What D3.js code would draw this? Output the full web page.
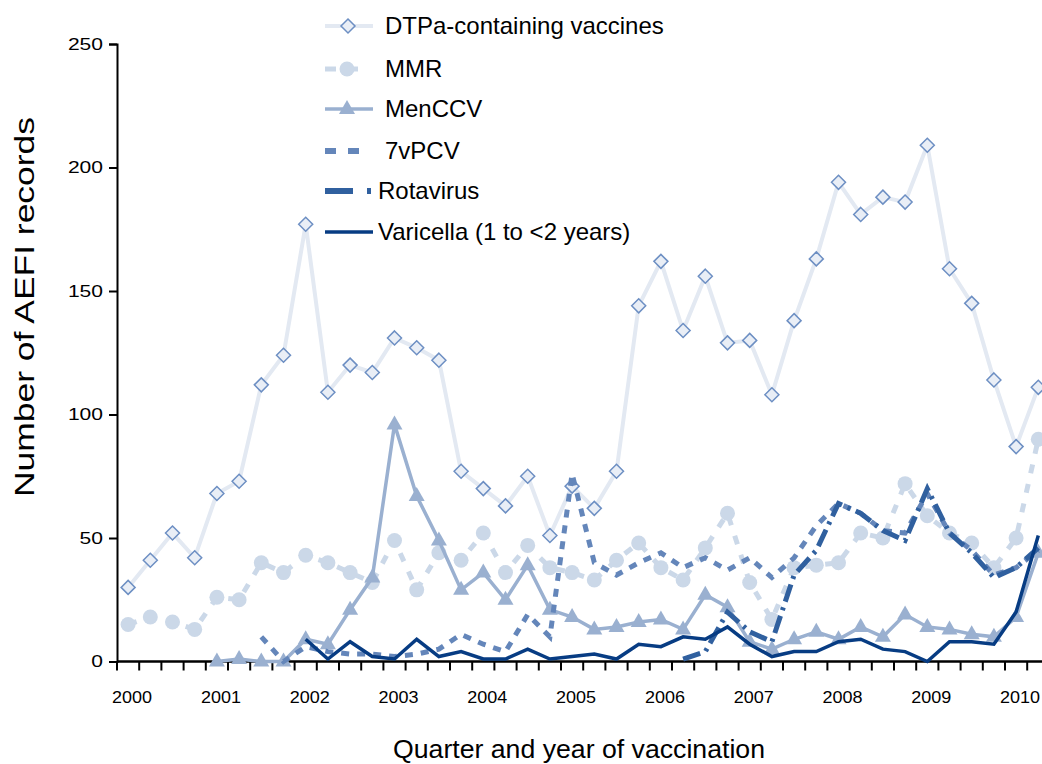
<!DOCTYPE html>
<html><head><meta charset="utf-8">
<script src="https://cdn.jsdelivr.net/npm/d3@7"></script>
<style>
html,body{margin:0;padding:0;background:#fff;}
svg{display:block;font-family:Arial,"Liberation Sans",sans-serif;}
</style></head>
<body>
<svg id="chart" width="1042" height="764"></svg>
<script>
const years = ["2000","2001","2002","2003","2004","2005","2006","2007","2008","2009","2010"];
const quarterNames = ["Q1","Q2","Q3","Q4"];
const quarters = [];
years.forEach(y => quarterNames.forEach(q => quarters.push(y + " " + q)));
quarters.length = 42; // 2000 Q1 .. 2010 Q2

const dtpa = [30,41,52,42,68,73,112,124,177,109,120,117,131,127,122,77,70,63,75,51,71,62,77,144,162,134,156,129,130,108,138,163,194,181,188,186,209,159,145,114,87,111];
const mmr = [15,18,16,13,26,25,40,36,43,40,36,32,49,29,44,41,52,36,47,38,36,33,41,48,38,33,46,60,32,17,38,39,40,52,50,72,59,52,48,38,50,90];
const menccv = [null,null,null,null,0,1,0,0,9,7,21,34,96,67,49,29,36,25,39,21,18,13,14,16,17,13,27,22,8,5,9,12,9,14,10,19,14,13,11,10,18,44];
const pcv7 = [null,null,null,null,null,null,10,0,6,4,3,3,2,3,5,11,7,4,19,10,76,40,35,40,44,38,42,37,42,34,42,55,64,60,53,52,68,52,45,35,38,45];
const rotavirus = [null,null,null,null,null,null,null,null,null,null,null,null,null,null,null,null,null,null,null,null,null,null,null,null,null,1,4,20,12,8,35,45,64,60,53,49,70,52,44,34,38,46];
const varicella = [null,null,null,null,null,null,null,null,9,1,8,2,1,9,2,4,1,1,5,1,2,3,1,7,6,10,9,14,7,2,4,4,8,9,5,4,0,8,8,7,20,51];
const yTicks = [0,50,100,150,200,250];

const seriesNames = ["DTPa-containing vaccines","MMR","MenCCV","7vPCV","Rotavirus","Varicella (1 to <2 years)"];

const svg = d3.select("#chart");
const x0 = 117, bw = 22.2;
const x = d3.scaleBand().domain(quarters).range([x0, x0 + bw * quarters.length]).paddingInner(0).paddingOuter(0);
const y = d3.scaleLinear().domain([0, 250]).range([661.5, 44]);
const cx = q => x(q) + x.bandwidth() / 2;

// axes
const yAxis = d3.axisLeft(y).tickValues(yTicks).tickSize(8).tickPadding(6).tickFormat(d3.format("d"));
const gy = svg.append("g").attr("transform", `translate(${x0},0)`).call(yAxis);
gy.select(".domain").attr("stroke", "#000").attr("stroke-width", 2);
gy.selectAll(".tick line").attr("stroke", "#000").attr("stroke-width", 2);
gy.selectAll(".tick text").attr("font-size", 17).attr("fill", "#000")
  .attr("font-family", "Arial, 'Liberation Sans', sans-serif")
  .attr("textLength", d => String(d).length * 11.7).attr("lengthAdjust", "spacingAndGlyphs");

// x axis: ticks at band boundaries
const gx = svg.append("g");
gx.append("line").attr("x1", x0).attr("x2", 1042).attr("y1", y(0)).attr("y2", y(0)).attr("stroke", "#000").attr("stroke-width", 2.5);
gx.selectAll("line.tk").data(d3.range(quarters.length + 1)).enter().append("line")
  .attr("class", "tk")
  .attr("x1", i => x0 + i * x.bandwidth()).attr("x2", i => x0 + i * x.bandwidth())
  .attr("y1", y(0)).attr("y2", y(0) + 9)
  .attr("stroke", "#000").attr("stroke-width", 2);
gx.selectAll("text.yr").data(years).enter().append("text")
  .attr("class", "yr")
  .attr("x", yr => cx(yr + " Q1") + 4)
  .attr("y", 703)
  .attr("text-anchor", "middle")
  .attr("font-size", 17)
  .attr("textLength", 40).attr("lengthAdjust", "spacingAndGlyphs")
  .text(yr => yr);

// titles
svg.append("text").attr("x", 579).attr("y", 758).attr("text-anchor", "middle").attr("font-size", 26)
  .attr("textLength", 372).attr("lengthAdjust", "spacingAndGlyphs").text("Quarter and year of vaccination");
svg.append("text").attr("transform", "translate(34,307) rotate(-90)").attr("text-anchor", "middle").attr("font-size", 27)
  .attr("textLength", 380).attr("lengthAdjust", "spacingAndGlyphs").text("Number of AEFI records");

const line = d3.line().defined(d => d.v != null).x(d => cx(d.q)).y(d => y(d.v));
const pts = arr => arr.map((v, i) => ({ q: quarters[i], v: v }));

const styles = [
  { data: dtpa, color: "#e3e9f2", width: 4, dash: null },
  { data: mmr, color: "#cbd8e8", width: 5, dash: "9,11" },
  { data: menccv, color: "#9ab0d0", width: 3.5, dash: null },
  { data: pcv7, color: "#6486ba", width: 5, dash: "8,8" },
  { data: rotavirus, color: "#30609f", width: 5, dash: "18,6,3,6" },
  { data: varicella, color: "#073c83", width: 3.5, dash: null }
];

const plot = svg.append("g");
styles.forEach((s, k) => {
  const g = plot.append("g");
  g.append("path").datum(pts(s.data)).attr("d", line)
    .attr("fill", "none").attr("stroke", s.color).attr("stroke-width", s.width)
    .attr("stroke-dasharray", s.dash).attr("stroke-linejoin", "miter");
  const valid = pts(s.data).filter(d => d.v != null);
  if (k === 0) {
    g.selectAll("path.m").data(valid).enter().append("path").attr("class", "m")
      .attr("d", "M0,-7L7,0L0,7L-7,0Z")
      .attr("transform", d => `translate(${cx(d.q)},${y(d.v)})`)
      .attr("fill", "#e9eef6").attr("stroke", "#6d8fc3").attr("stroke-width", 1.5);
  } else if (k === 1) {
    g.selectAll("circle").data(valid).enter().append("circle")
      .attr("cx", d => cx(d.q)).attr("cy", d => y(d.v)).attr("r", 7.5)
      .attr("fill", "#cbd8e8");
  } else if (k === 2) {
    g.selectAll("path.m").data(valid).enter().append("path").attr("class", "m")
      .attr("d", "M0,-9L8,5L-8,5Z")
      .attr("transform", d => `translate(${cx(d.q)},${y(d.v)})`)
      .attr("fill", "#9ab0d0");
  }
});

// legend
const legY = [26, 69, 109, 151, 191, 232];
const leg = svg.append("g");
// DTPa
leg.append("line").attr("x1", 325).attr("x2", 373).attr("y1", legY[0]).attr("y2", legY[0]).attr("stroke", "#e3e9f2").attr("stroke-width", 4);
leg.append("path").attr("d", "M0,-7L7,0L0,7L-7,0Z").attr("transform", `translate(348,${legY[0]})`).attr("fill", "#e9eef6").attr("stroke", "#6d8fc3").attr("stroke-width", 1.5);
// MMR
leg.append("line").attr("x1", 325).attr("x2", 336).attr("y1", legY[1]).attr("y2", legY[1]).attr("stroke", "#cbd8e8").attr("stroke-width", 5);
leg.append("line").attr("x1", 348).attr("x2", 358).attr("y1", legY[1]).attr("y2", legY[1]).attr("stroke", "#cbd8e8").attr("stroke-width", 5);
leg.append("circle").attr("cx", 347).attr("cy", legY[1]).attr("r", 7.5).attr("fill", "#cbd8e8");
// MenCCV
leg.append("line").attr("x1", 325).attr("x2", 373).attr("y1", legY[2]).attr("y2", legY[2]).attr("stroke", "#9ab0d0").attr("stroke-width", 3.5);
leg.append("path").attr("d", "M0,-9L8,5L-8,5Z").attr("transform", `translate(347,${legY[2]})`).attr("fill", "#9ab0d0");
// 7vPCV
leg.append("line").attr("x1", 325).attr("x2", 359).attr("y1", legY[3]).attr("y2", legY[3]).attr("stroke", "#6486ba").attr("stroke-width", 6).attr("stroke-dasharray", "11,12");
// Rotavirus
leg.append("line").attr("x1", 325).attr("x2", 372).attr("y1", legY[4]).attr("y2", legY[4]).attr("stroke", "#30609f").attr("stroke-width", 6).attr("stroke-dasharray", "28,14,4,100");
// Varicella
leg.append("line").attr("x1", 325).attr("x2", 373).attr("y1", legY[5]).attr("y2", legY[5]).attr("stroke", "#073c83").attr("stroke-width", 3.5);

const textX = [385, 385, 385, 385, 378, 378];
leg.selectAll("text").data(seriesNames).enter().append("text")
  .attr("x", (d, i) => textX[i]).attr("y", (d, i) => legY[i])
  .attr("dy", "0.35em").attr("font-size", 24).attr("fill", "#000").text(d => d);
</script>
</body></html>
